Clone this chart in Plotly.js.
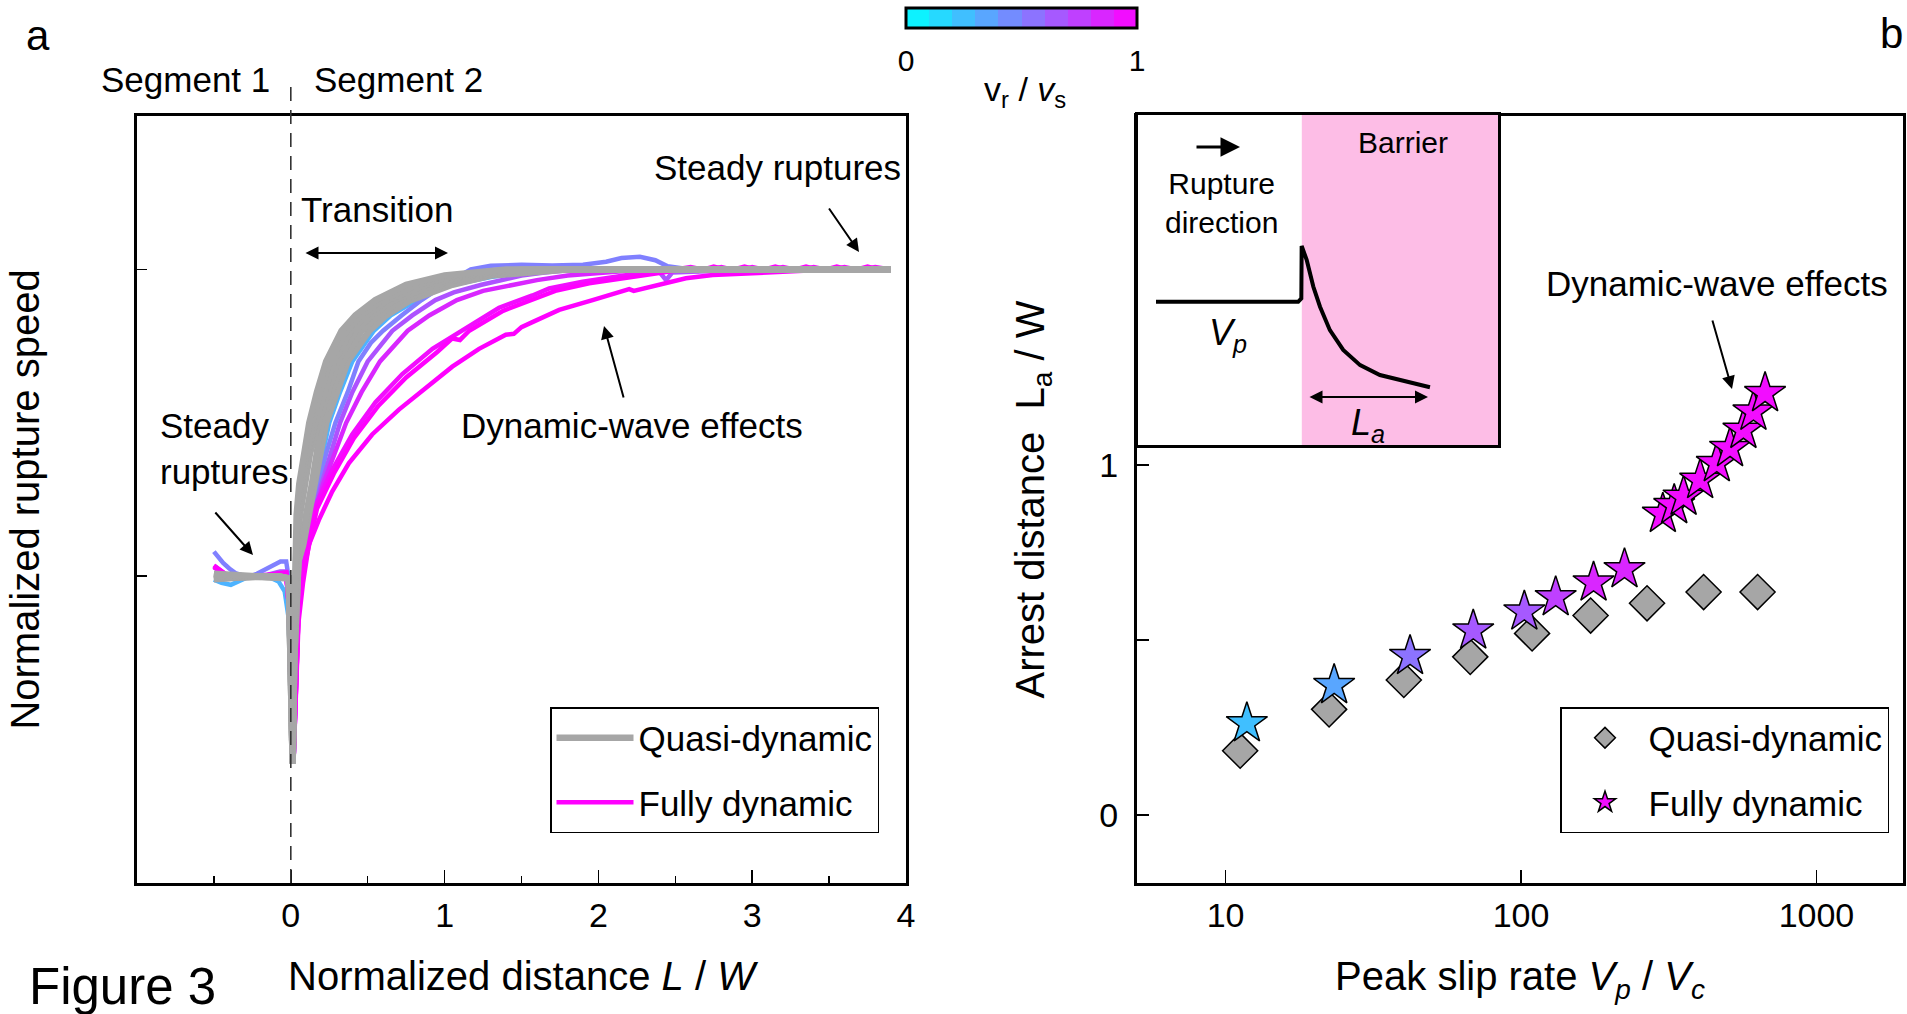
<!DOCTYPE html>
<html>
<head>
<meta charset="utf-8">
<script src="https://cdn.plot.ly/plotly-3.0.1.min.js"></script>
<style>html,body{margin:0;padding:0;background:#fff;}#chart{width:1907px;height:1014px;}</style>
</head>
<body>
<div id="chart"></div>
<script>
// ---------- Panel a : quasi-dynamic (grey) rupture-speed curves ----------
const g1x = [-0.5,-0.35,-0.2,-0.08,-0.013,0.0,0.012,0.02,0.028,0.038,0.055,0.085,0.12,0.17,0.23,0.33,0.42,0.55,0.75,1.0,1.4,2.0,3.0,3.9];
const g1y = [1.008,1.003,1.0,0.997,0.993,0.72,0.39,0.78,1.1,1.2,1.3,1.4,1.5,1.6,1.7,1.8,1.85,1.9,1.95,1.98,2.0,2.0,2.0,2.0];
const g2x = [-0.5,-0.35,-0.2,-0.08,-0.013,0.0,0.012,0.021,0.032,0.045,0.066,0.098,0.14,0.19,0.255,0.36,0.455,0.59,0.82,1.07,1.5,2.1,3.0,3.9];
const g2y = [1.005,1.001,1.0,0.998,0.993,0.72,0.39,0.76,1.1,1.2,1.3,1.4,1.5,1.6,1.7,1.8,1.85,1.9,1.95,1.98,2.0,2.0,2.0,2.0];
const g3x = [-0.5,-0.35,-0.2,-0.08,-0.013,0.0,0.012,0.022,0.036,0.052,0.077,0.11,0.16,0.215,0.28,0.39,0.49,0.63,0.88,1.14,1.6,2.2,3.0,3.9];
const g3y = [1.0,0.999,1.0,0.999,0.993,0.72,0.39,0.74,1.1,1.2,1.3,1.4,1.5,1.6,1.7,1.8,1.85,1.9,1.95,1.98,2.0,2.0,2.0,2.0];
const g4x = [-0.5,-0.35,-0.2,-0.08,-0.013,0.0,0.012,0.022,0.041,0.06,0.088,0.125,0.18,0.24,0.305,0.42,0.525,0.67,0.94,1.2,1.7,2.3,3.1,3.9];
const g4y = [0.996,0.998,1.0,1.0,0.993,0.72,0.39,0.73,1.1,1.2,1.3,1.4,1.5,1.6,1.7,1.8,1.85,1.9,1.95,1.98,2.0,2.0,2.0,2.0];
const g5x = [-0.5,-0.35,-0.2,-0.08,-0.013,0.0,0.012,0.022,0.035,0.05,0.075,0.1,0.137,0.2,0.265,0.34,0.46,0.57,0.72,1.0,1.26,1.75,2.4,3.2,3.9];
const g5y = [0.993,0.997,1.0,1.0,0.992,0.72,0.39,0.72,0.96,1.05,1.1,1.2,1.3,1.5,1.6,1.7,1.8,1.85,1.9,1.95,1.98,2.0,2.0,2.0,2.0];
const g6x = [-0.5,-0.35,-0.2,-0.08,-0.013,0.0,0.012,0.022,0.035,0.05,0.08,0.115,0.152,0.19,0.23,0.30,0.37,0.51,0.62,0.78,1.05,1.3,1.8,2.5,3.2,3.9];
const g6y = [0.99,0.996,1.0,1.0,0.992,0.72,0.39,0.72,0.95,1.05,1.1,1.2,1.3,1.4,1.5,1.6,1.7,1.8,1.85,1.9,1.95,1.98,2.0,2.0,2.0,2.0];

// ---------- Panel a : fully dynamic curves (coloured by vr/vs) ----------
const dynVr = [0.3, 0.5, 0.68, 0.85, 0.95, 1.0, 1.0];
const d1x = [-0.5,-0.45,-0.39,-0.33,-0.27,-0.2,-0.14,-0.08,-0.04,-0.013,0.0,0.018,0.032,0.045,0.06,0.085,0.125,0.165,0.25,0.32,0.40,0.54,0.65,0.82,0.92,1.0,1.1,1.3,1.5,1.7,2.0,2.5,3.0,3.5,3.9];
const d1y = [0.989,0.978,0.972,0.985,0.999,1.0,0.997,0.983,0.951,0.86,0.6,0.40,0.62,0.9,1.02,1.12,1.22,1.3,1.5,1.6,1.7,1.8,1.85,1.9,1.935,1.945,1.955,1.975,1.99,2.0,2.0,2.0,2.0,2.0,2.0];
const d2x = [-0.5,-0.47,-0.44,-0.4,-0.36,-0.3,-0.27,-0.22,-0.165,-0.11,-0.067,-0.03,-0.017,0.0,0.018,0.03,0.045,0.06,0.085,0.13,0.18,0.23,0.29,0.37,0.44,0.52,0.60,0.72,0.85,1.0,1.1,1.17,1.3,1.5,1.7,1.9,2.05,2.15,2.27,2.37,2.45,2.6,3.0,3.5,3.9];
const d2y = [1.08,1.06,1.043,1.025,1.01,1.0,0.999,1.008,1.021,1.038,1.048,1.048,1.005,0.6,0.40,0.6,0.88,1.0,1.1,1.22,1.3,1.4,1.5,1.6,1.7,1.76,1.8,1.85,1.9,1.95,1.98,2.0,2.012,2.015,2.013,2.015,2.025,2.037,2.041,2.03,2.01,2.0,2.0,2.0,2.0];
const d3x = [-0.5,-0.42,-0.34,-0.25,-0.15,-0.07,-0.03,-0.013,0.0,0.018,0.032,0.048,0.065,0.09,0.2,0.32,0.40,0.50,0.66,0.79,0.94,1.06,1.24,1.36,1.5,1.65,1.85,2.2,2.4,2.44,2.48,3.0,3.5,3.9];
const d3y = [1.03,1.0,0.995,1.0,1.005,1.015,1.015,0.9,0.6,0.40,0.6,0.88,1.0,1.1,1.3,1.5,1.6,1.7,1.8,1.85,1.9,1.925,1.95,1.965,1.98,1.99,2.0,2.0,1.99,1.965,1.99,2.0,2.0,2.0];
const d4x = [-0.5,-0.42,-0.34,-0.25,-0.15,-0.07,-0.03,-0.013,0.0,0.018,0.032,0.05,0.07,0.10,0.21,0.36,0.46,0.58,0.76,0.90,1.08,1.25,1.45,1.6,1.8,2.05,2.3,2.6,3.0,3.5,3.9];
const d4y = [1.035,1.005,0.997,1.0,1.003,1.01,1.012,0.9,0.6,0.40,0.6,0.88,1.0,1.1,1.3,1.5,1.6,1.7,1.8,1.85,1.9,1.93,1.95,1.965,1.98,1.99,2.0,2.0,2.0,2.0,2.0];
const d5x = [-0.5,-0.42,-0.34,-0.25,-0.15,-0.07,-0.03,-0.013,0.0,0.018,0.032,0.05,0.07,0.11,0.161,0.269,0.399,0.551,0.725,0.921,1.0,1.05,1.138,1.354,1.571,1.68,1.897,2.114,2.33,2.5,2.6,2.7,2.8,2.9,3.0,3.1,3.2,3.3,3.4,3.5,3.6,3.7,3.8,3.9];
const d5y = [1.03,1.003,0.998,1.0,1.002,1.008,1.01,0.9,0.6,0.40,0.6,0.88,1.0,1.1,1.23,1.346,1.462,1.567,1.659,1.741,1.765,1.78,1.81,1.875,1.915,1.938,1.96,1.976,1.992,2.0,2.008,1.997,2.008,1.996,2.008,1.997,2.008,1.997,2.008,1.997,2.008,1.997,2.008,2.0];
const d6x = [-0.5,-0.42,-0.34,-0.25,-0.15,-0.07,-0.03,-0.013,0.0,0.018,0.032,0.05,0.075,0.115,0.17,0.28,0.41,0.57,0.75,0.95,1.05,1.1,1.16,1.38,1.6,1.72,1.94,2.16,2.4,2.55,2.65,2.75,2.85,2.95,3.05,3.15,3.25,3.35,3.45,3.55,3.65,3.75,3.85,3.9];
const d6y = [1.035,1.005,0.996,1.0,1.002,1.008,1.01,0.9,0.6,0.40,0.6,0.88,1.0,1.1,1.22,1.335,1.45,1.556,1.648,1.73,1.775,1.77,1.8,1.865,1.905,1.93,1.955,1.972,1.99,2.0,1.995,2.009,1.996,2.009,1.996,2.009,1.996,2.009,1.996,2.009,1.996,2.009,1.996,2.0];
const d7x = [-0.5,-0.42,-0.34,-0.25,-0.15,-0.07,-0.03,-0.013,0.0,0.018,0.032,0.05,0.08,0.117,0.182,0.269,0.378,0.529,0.703,0.877,1.05,1.224,1.398,1.45,1.5,1.571,1.745,1.962,2.157,2.2,2.23,2.352,2.569,2.743,2.917,3.2,3.5,3.9];
const d7y = [1.03,1.005,0.997,1.0,1.003,1.01,1.012,0.9,0.6,0.40,0.6,0.85,0.98,1.102,1.183,1.276,1.369,1.462,1.543,1.613,1.683,1.741,1.787,1.79,1.812,1.828,1.868,1.9,1.927,1.936,1.93,1.944,1.971,1.982,1.987,1.992,2.0,2.0];

// ---------- Panel b : arrest distance ----------
const quasiVp = [11.2, 22.4, 40.1, 67.3, 109, 172, 267, 415, 632];
const quasiLa = [0.184, 0.302, 0.386, 0.452, 0.519, 0.570, 0.605, 0.637, 0.637];
const fullyVp = [11.8, 23.3, 42.1, 68.9, 102.6, 131, 176, 224, 302, 330, 355, 404, 460, 510, 566, 612, 670];
const fullyLa = [0.262, 0.371, 0.454, 0.527, 0.581, 0.622, 0.664, 0.702, 0.860, 0.885, 0.909, 0.957, 1.005, 1.048, 1.100, 1.152, 1.205];
const fullyVr = [0.2, 0.35, 0.5, 0.62, 0.68, 0.74, 0.8, 0.86, 0.95, 0.95, 0.95, 0.95, 0.95, 0.95, 0.95, 0.95, 0.95];

// ---------- Inset schematic (normalised inset coordinates) ----------
const insetX = [0.05, 0.445, 0.4537, 0.4546, 0.4685, 0.487, 0.5056, 0.533, 0.570, 0.617, 0.672, 0.746, 0.811];
const insetY = [0.434, 0.434, 0.444, 0.603, 0.561, 0.48, 0.419, 0.348, 0.288, 0.242, 0.212, 0.192, 0.175];
const barrierStart = 0.455;

// ---------- helpers ----------
const FONT = 'Liberation Sans, Arial, sans-serif';
function cool(t) {
  return 'rgb(' + Math.round(255 * t) + ',' + Math.round(255 * (1 - t)) + ',255)';
}
const nBins = 10;
const coolScale = [];
for (let i = 0; i < nBins; i++) {
  const c = cool((i + 0.5) / nBins);
  coolScale.push([i / nBins, c]);
  coolScale.push([(i + 1) / nBins, c]);
}
const W = 1907, H = 1014;
const px = v => v / W;
const py = v => 1 - v / H;

const traces = [];
const dynX = [d1x, d2x, d3x, d4x, d5x, d6x, d7x];
const dynY = [d1y, d2y, d3y, d4y, d5y, d6y, d7y];
dynX.forEach((xs, i) => {
  const last = i === dynX.length - 1;
  traces.push({
    x: xs, y: dynY[i], type: 'scatter', mode: 'lines', xaxis: 'x', yaxis: 'y',
    line: {color: cool(dynVr[i]), width: 4.5},
    name: 'Fully dynamic', showlegend: last, legend: 'legend',
    legendgroup: 'fd', legendrank: 2, hoverinfo: 'skip'
  });
});
[[g6x, g6y], [g5x, g5y], [g4x, g4y], [g3x, g3y], [g2x, g2y], [g1x, g1y]].forEach((c, i) => {
  traces.push({
    x: c[0], y: c[1], type: 'scatter', mode: 'lines', xaxis: 'x', yaxis: 'y',
    line: {color: '#a6a6a6', width: 6.5},
    name: 'Quasi-dynamic', showlegend: i === 0, legend: 'legend',
    legendgroup: 'qd', legendrank: 1, hoverinfo: 'skip'
  });
});

// panel b markers
traces.push({
  x: quasiVp, y: quasiLa, type: 'scatter', mode: 'markers', xaxis: 'x2', yaxis: 'y2',
  marker: {symbol: 'diamond', size: 27, color: '#a6a6a6', line: {color: '#000', width: 1.5}},
  name: 'Quasi-dynamic', legend: 'legend2', legendgroup: 'q2', legendrank: 1, hoverinfo: 'skip'
});
const lowIdx = fullyVr.map((v, i) => i).filter(i => fullyVr[i] < 0.9);
const highIdx = fullyVr.map((v, i) => i).filter(i => fullyVr[i] >= 0.9);
traces.push({
  x: lowIdx.map(i => fullyVp[i]), y: lowIdx.map(i => fullyLa[i]),
  type: 'scatter', mode: 'markers', xaxis: 'x2', yaxis: 'y2',
  marker: {symbol: 'star', size: 31, color: lowIdx.map(i => fullyVr[i]), colorscale: coolScale,
           cmin: 0, cmax: 1, showscale: false, line: {color: '#000', width: 1.5}},
  name: 'Fully dynamic', showlegend: false, legend: 'legend2', legendgroup: 'f2', hoverinfo: 'skip'
});
traces.push({
  x: highIdx.map(i => fullyVp[i]), y: highIdx.map(i => fullyLa[i]),
  type: 'scatter', mode: 'markers', xaxis: 'x2', yaxis: 'y2',
  marker: {symbol: 'star', size: 31, color: highIdx.map(i => fullyVr[i]), colorscale: coolScale,
           cmin: 0, cmax: 1, line: {color: '#000', width: 1.5},
           showscale: true,
           colorbar: {
             orientation: 'h', x: px(1021.5), xanchor: 'center', y: py(8.5), yanchor: 'top',
             len: 231 / W, lenmode: 'fraction', thickness: 20, thicknessmode: 'pixels',
             xpad: 0, ypad: 0, outlinewidth: 3, outlinecolor: '#000',
             tickvals: [0, 1], ticktext: ['0', '1'], ticks: 'outside', ticklen: 6,
             tickcolor: 'rgba(0,0,0,0)', tickfont: {family: FONT, size: 30, color: '#000'},
             title: {text: ''}
           }},
  name: 'Fully dynamic', showlegend: true, legend: 'legend2', legendgroup: 'f2', legendrank: 2, hoverinfo: 'skip'
});

// inset schematic
traces.push({
  x: insetX, y: insetY, type: 'scatter', mode: 'lines', xaxis: 'x3', yaxis: 'y3',
  line: {color: '#000', width: 4}, showlegend: false, hoverinfo: 'skip'
});

const axBase = {
  showline: true, mirror: true, linewidth: 3, linecolor: '#000',
  showgrid: false, zeroline: false, ticks: 'inside', tickwidth: 1.5, tickcolor: '#000',
  tickfont: {family: FONT, size: 34, color: '#000'}, fixedrange: true, automargin: false
};
const yDom = [py(883), py(116)];

const layout = {
  width: W, height: H,
  margin: {l: 0, r: 0, t: 0, b: 0, pad: 0},
  paper_bgcolor: '#fff', plot_bgcolor: '#fff',
  font: {family: FONT, color: '#000'},
  hovermode: false,
  xaxis: Object.assign({}, axBase, {
    domain: [px(137), px(906)], anchor: 'y', range: [-1, 4],
    tickvals: [0, 1, 2, 3, 4], ticktext: ['0', '1', '2', '3', '4'], ticklen: 13,
    ticklabelstandoff: 0,
    minor: {tickvals: [-0.5, 0.5, 1.5, 2.5, 3.5], ticks: 'inside', ticklen: 7, tickwidth: 1.5, tickcolor: '#000'},
    title: {text: 'Normalized distance <i>L</i> / <i>W</i>', font: {family: FONT, size: 40, color: '#000'}, standoff: 30}
  }),
  yaxis: Object.assign({}, axBase, {
    domain: yDom, anchor: 'x', range: [0, 2.5],
    tickvals: [1, 2], showticklabels: false, ticklen: 10,
    title: {text: 'Normalized rupture speed', font: {family: FONT, size: 40, color: '#000'}, standoff: 83}
  }),
  xaxis2: Object.assign({}, axBase, {
    domain: [px(1137), px(1903)], anchor: 'y2', type: 'log', range: [0.70, 3.293],
    tickvals: [10, 100, 1000], ticktext: ['10', '100', '1000'], ticklen: 13,
    ticklabelstandoff: 0,
    title: {text: 'Peak slip rate <i>V</i><sub><i>p</i></sub> / <i>V</i><sub><i>c</i></sub>', font: {family: FONT, size: 40, color: '#000'}, standoff: 30}
  }),
  yaxis2: Object.assign({}, axBase, {
    domain: yDom, anchor: 'x2', range: [-0.194, 1.997],
    tickvals: [0, 0.5, 1, 1.5], ticktext: ['0', '', '1', ''], ticklen: 12,
    ticklabelstandoff: 9,
    title: {text: 'Arrest distance\u00a0\u00a0L<sub>a</sub> / W', font: {family: FONT, size: 40, color: '#000'}, standoff: 43}
  }),
  xaxis3: {
    domain: [px(1138), px(1498)], anchor: 'y3', range: [0, 1], showline: true, mirror: true,
    linewidth: 3, linecolor: '#000', showgrid: false, zeroline: false, showticklabels: false,
    ticks: '', fixedrange: true
  },
  yaxis3: {
    domain: [py(445), py(115)], anchor: 'x3', range: [0, 1], showline: true, mirror: true,
    linewidth: 3, linecolor: '#000', showgrid: false, zeroline: false, showticklabels: false,
    ticks: '', fixedrange: true
  },
  legend: {
    x: px(550), y: py(707), xanchor: 'left', yanchor: 'top',
    bgcolor: '#fff', bordercolor: '#000', borderwidth: 1.5,
    font: {family: FONT, size: 35, color: '#000'},
    traceorder: 'grouped', tracegroupgap: 16, itemwidth: 77
  },
  legend2: {
    x: px(1560), y: py(707), xanchor: 'left', yanchor: 'top',
    bgcolor: '#fff', bordercolor: '#000', borderwidth: 1.5,
    font: {family: FONT, size: 35, color: '#000'},
    traceorder: 'grouped', tracegroupgap: 16, itemwidth: 77
  },
  shapes: [
    {type: 'line', xref: 'x', yref: 'paper', x0: 0, x1: 0, y0: py(883), y1: py(78),
     line: {color: '#333', width: 1.6, dash: '14px,9px'}, layer: 'above'},
    {type: 'rect', xref: 'x3', yref: 'y3', x0: barrierStart, x1: 1, y0: 0, y1: 1,
     fillcolor: '#fdbde6', line: {width: 0}, layer: 'below'}
  ],
  annotations: []
};

function txt(t, x, y, size, extra) {
  layout.annotations.push(Object.assign({
    text: t, xref: 'paper', yref: 'paper', x: px(x), y: py(y),
    xanchor: 'center', yanchor: 'middle', showarrow: false,
    font: {family: FONT, size: size, color: '#000'}
  }, extra || {}));
}
function arrow(hx, hy, ax, ay, both, w) {
  layout.annotations.push({
    text: '', xref: 'paper', yref: 'paper', x: px(hx), y: py(hy), ax: ax, ay: ay,
    showarrow: true, arrowhead: 2, arrowsize: 1.3, arrowwidth: w || 2, arrowcolor: '#000',
    arrowside: both ? 'end+start' : 'end', startarrowhead: 2, startarrowsize: 1.3,
    standoff: 0, startstandoff: 0
  });
}

txt('a', 38, 36, 42);
txt('b', 1891, 34, 42);
txt('Segment 1', 185, 80, 35);
txt('Segment 2', 398, 80, 35);
txt('Transition', 377, 210, 35);
txt('Steady ruptures', 777, 168, 35);
txt('Steady<br>ruptures', 158, 448, 35, {xanchor: 'left', align: 'left'});
txt('Dynamic-wave effects', 632, 426, 35);
txt('Dynamic-wave effects', 1717, 283, 35);
txt('Figure 3', 27, 986, 51, {xanchor: 'left'});
txt('v<sub>r</sub> / <i>v</i><sub>s</sub>', 1025, 91, 34);
txt('Barrier', 1403, 143, 30);
txt('Rupture<br>direction', 1221, 203, 30);
txt('<i>V</i><sub><i>p</i></sub>', 1228, 335, 36);
txt('<i>L</i><sub><i>a</i></sub>', 1368, 425, 36);

arrow(859, 252, -31, -45);
arrow(253, 555, -39, -44);
arrow(604, 326, 20, 73);
arrow(1732, 389, -20, -70);
arrow(448, 253, -144, 0, true);
arrow(1240, 147, -45, 0, false, 3);
arrow(1428, 397, -120, 0, true);

Plotly.newPlot('chart', traces, layout, {staticPlot: true, displayModeBar: false});
</script>
</body>
</html>
